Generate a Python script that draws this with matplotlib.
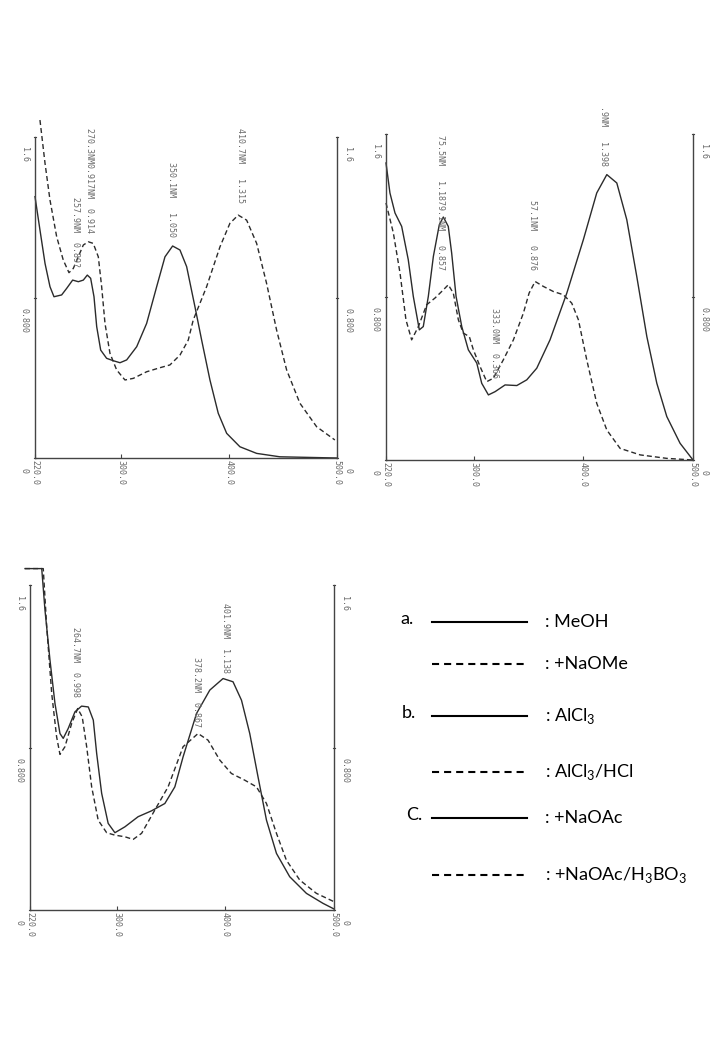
import matplotlib
matplotlib.use('Agg')
import matplotlib.pyplot as plt
from matplotlib.lines import Line2D

plt.rcParams['mathtext.fontset'] = 'custom'
plt.rcParams['mathtext.rm'] = 'Lato'

# panel a: MeOH / +NaOMe
a_wl_meoh = [220, 224.6, 229.3, 233.9, 237.6, 244.7, 249.4, 254.9, 260.2, 264.8, 268.5, 271.6, 274.7,
             277.2, 280.9, 286.4, 292.6, 298.8, 305, 314.3, 323.5, 332.8, 340.5, 347.6, 354.4, 360.6,
             368.3, 374.5, 382.2, 389.9, 397.7, 410, 425.5, 447, 500]
a_ab_meoh = [1.303, 1.137, 0.97, 0.854, 0.804, 0.813, 0.846, 0.887, 0.879, 0.887, 0.912, 0.896, 0.804,
             0.655, 0.538, 0.497, 0.485, 0.475, 0.489, 0.555, 0.671, 0.854, 1.003, 1.057, 1.037, 0.954,
             0.754, 0.588, 0.389, 0.223, 0.123, 0.056, 0.023, 0.006, 0.0]
a_wl_naome = [224.6, 229.3, 233.9, 240.1, 246.2, 251.5, 255.5, 260.1, 264.8, 269.4, 274, 278.7, 281.8,
              284.9, 289.5, 295.7, 303.4, 311.1, 323.5, 335.8, 345.1, 354.4, 362.1, 366.7, 379.1, 391.5,
              400.7, 408.4, 416.2, 425.5, 434.7, 444, 453.3, 465.6, 481.1, 498]
a_ab_naome = [1.685, 1.469, 1.286, 1.103, 0.987, 0.924, 0.945, 1.003, 1.062, 1.078, 1.07, 1.003, 0.854,
              0.671, 0.522, 0.439, 0.389, 0.397, 0.43, 0.45, 0.464, 0.513, 0.588, 0.688, 0.854, 1.053,
              1.17, 1.211, 1.186, 1.07, 0.871, 0.638, 0.439, 0.273, 0.156, 0.09]

# panel b: AlCl3 / AlCl3+HCl
b_wl_alcl = [220, 223.6, 228.2, 234.3, 240.3, 244.9, 250.4, 254, 258.6, 263.2, 268.6, 272.3, 276.8,
             279.9, 283.9, 289.1, 295.1, 302.8, 307.3, 313.4, 319.5, 328.6, 339.3, 348.4, 357.5, 369.6,
             384.9, 400, 412.2, 421.4, 430.5, 439.6, 448.7, 457.9, 467, 476.1, 488.2, 500]
b_ab_alcl = [1.456, 1.309, 1.211, 1.145, 0.982, 0.802, 0.638, 0.654, 0.802, 0.998, 1.153, 1.191, 1.145,
             1.014, 0.802, 0.654, 0.54, 0.475, 0.376, 0.319, 0.335, 0.368, 0.365, 0.393, 0.45, 0.589,
             0.818, 1.08, 1.309, 1.399, 1.358, 1.178, 0.9, 0.605, 0.376, 0.213, 0.082, 0.0]
b_wl_hcl = [220, 226.7, 232.8, 238.2, 243.4, 249.5, 257.1, 264.7, 272.3, 276.8, 281.4, 286, 290.5, 296,
            299.7, 305.8, 311.9, 317.9, 327, 336.2, 345.3, 350.5, 356, 363.5, 372.6, 381.8, 389.4, 395.5,
            403.1, 412.2, 421.4, 433.5, 451.8, 476.1, 500]
b_ab_hcl = [1.26, 1.113, 0.916, 0.687, 0.589, 0.654, 0.761, 0.794, 0.834, 0.859, 0.818, 0.687, 0.622,
            0.605, 0.54, 0.458, 0.384, 0.401, 0.491, 0.589, 0.72, 0.818, 0.875, 0.851, 0.826, 0.81, 0.769,
            0.687, 0.491, 0.278, 0.147, 0.057, 0.025, 0.008, 0.0]

# panel c: +NaOAc / +NaOAc+H3BO3 (trace flattened at the top of the recorder range)
c_wl_naoac = [215.4, 230.8, 233.8, 238.4, 243, 247.6, 250.6, 255.2, 261.4, 267.5, 273.7, 278.3, 281.4,
              286, 292, 298.2, 307.4, 319.6, 332, 344.2, 353.4, 361, 373.4, 385.6, 397.8, 407, 414.8,
              422.4, 430, 437.8, 447, 459.2, 474.6, 489.8, 500]
c_ab_naoac = [1.683, 1.683, 1.478, 1.232, 1.018, 0.87, 0.846, 0.895, 0.977, 1.005, 1.001, 0.936, 0.772,
              0.575, 0.427, 0.381, 0.41, 0.46, 0.489, 0.525, 0.607, 0.755, 0.969, 1.084, 1.141, 1.125,
              1.034, 0.87, 0.657, 0.443, 0.279, 0.164, 0.082, 0.033, 0.005]
c_wl_boric = [215.4, 232.2, 235.4, 240, 244.5, 247.6, 252.2, 258.4, 263.9, 268.1, 272.2, 276.8, 282.8,
              290.6, 298.2, 307.4, 315, 322.8, 335, 347.2, 361, 374.8, 384, 394.8, 405.5, 417.8, 428.6,
              437.8, 447, 456.1, 468.4, 483.8, 500]
c_ab_boric = [1.683, 1.683, 1.396, 1.067, 0.854, 0.767, 0.805, 0.92, 0.993, 0.952, 0.805, 0.607, 0.443,
              0.381, 0.369, 0.361, 0.348, 0.378, 0.493, 0.607, 0.805, 0.87, 0.837, 0.739, 0.673, 0.64,
              0.607, 0.525, 0.378, 0.246, 0.148, 0.082, 0.041]

x_ticks = [220, 300, 400, 500]
x_ticklabels = ['220.0', '300.0', '400.0', '500.0']
y_ticks = [0, 0.8, 1.6]
y_ticklabels = ['0', '0.800', '1.6']

# peak annotations printed by the instrument (wavelength, absorbance where text ends, text)
a_peaks = [(257.9, 0.95, '257.9NM  0.89?'), (270.3, 1.12, '270.3NM0.917NM  0.914'),
           (347.0, 1.10, '350.1NM   1.050'), (410.7, 1.27, '410.7NM   1.315')]
b_peaks = [(270.0, 0.93, '75.5NM   1.1879.1NM   0.857'),
           (319.0, 0.40, '333.0NM  0.366'), (354.0, 0.93, '57.1NM   0.876'),
           (418.5, 1.44, '.9NM   1.398')]
c_peaks = [(262.0, 1.05, '264.7NM  0.998'), (373.0, 0.90, '378.2NM  0.867'),
           (400.0, 1.17, '401.9NM  1.138')]

ink = '#2b2b2b'
grey = '#6a6a6a'
dash = (0, (3.6, 2.2))

fig = plt.figure(figsize=(7.2, 10.4), dpi=100)


def panel(rect, wl1, ab1, wl2, ab2, peaks):
    ax = fig.add_axes(rect)
    ax.set_xlim(220, 500)
    ax.set_ylim(0, 1.75)
    ax.plot(wl1, ab1, color=ink, lw=1.0, clip_on=False)
    ax.plot(wl2, ab2, color=ink, lw=1.0, linestyle=dash, clip_on=False)
    ax.spines['top'].set_visible(False)
    for s in ['left', 'right', 'bottom']:
        ax.spines[s].set_color('#444444')
        ax.spines[s].set_linewidth(1.0)
    ax.spines['left'].set_bounds(0, 1.6)
    ax.spines['right'].set_bounds(0, 1.6)
    ax.set_xticks(x_ticks)
    ax.set_xticklabels([])
    ax.set_yticks([])
    ax.tick_params(axis='x', direction='in', length=3, color='#444444')
    for xv, lab in zip(x_ticks, x_ticklabels):
        ax.text(xv, -0.01, lab, rotation=-90, ha='center', va='top', fontsize=6,
                family='DejaVu Sans Mono', color=grey)
    for yv, lab in zip(y_ticks, y_ticklabels):
        ax.text(-0.035, yv - 0.05, lab, rotation=-90, ha='center', va='top', fontsize=6,
                family='DejaVu Sans Mono', color=grey, transform=ax.get_yaxis_transform())
        ax.text(1.035, yv - 0.05, lab, rotation=-90, ha='center', va='top', fontsize=6,
                family='DejaVu Sans Mono', color=grey, transform=ax.get_yaxis_transform())
        ax.plot([219, 221], [yv, yv], color='#444444', lw=0.8, clip_on=False)
        ax.plot([499, 501], [yv, yv], color='#444444', lw=0.8, clip_on=False)
    for xv, yv, lab in peaks:
        ax.text(xv, yv, lab, rotation=-90, ha='center', va='bottom', fontsize=6,
                family='DejaVu Sans Mono', color=grey)
    return ax


panel([35 / 720, 582 / 1040, 302 / 720, 351 / 1040], a_wl_meoh, a_ab_meoh, a_wl_naome, a_ab_naome, a_peaks)
panel([386 / 720, 580 / 1040, 307 / 720, 357 / 1040], b_wl_alcl, b_ab_alcl, b_wl_hcl, b_ab_hcl, b_peaks)
panel([30 / 720, 130 / 1040, 304 / 720, 355 / 1040], c_wl_naoac, c_ab_naoac, c_wl_boric, c_ab_boric, c_peaks)

# legend block (figure pixel space)
leg_labels = [': MeOH', ': +NaOMe', r': AlCl$_\mathregular{3}$', r': AlCl$_\mathregular{3}$/HCl',
              ': +NaOAc', r': +NaOAc/H$_\mathregular{3}$BO$_\mathregular{3}$']
leg_styles = ['-', (0, (3.4, 2.4)), '-', (0, (3.4, 2.4)), '-', (0, (3.4, 2.4))]
leg_rows = [622, 664, 716, 772, 818, 875]
leg_tags = ['a.', '', 'b.', '', 'C.', '']
tag_x = [400, 0, 402, 0, 406, 0]

lax = fig.add_axes([0, 0, 1, 1])
lax.set_xlim(0, 720)
lax.set_ylim(1040, 0)
lax.axis('off')
for row, lab, st, tag, tx in zip(leg_rows, leg_labels, leg_styles, leg_tags, tag_x):
    lax.add_line(Line2D([432, 527], [row, row], color='black', lw=1.5, linestyle=st))
    lax.text(545, row, lab, ha='left', va='center', fontsize=13, family='Lato', color='black')
    if tag:
        lax.text(tx, row - 3, tag, ha='left', va='center', fontsize=13, family='Lato', color='black')

fig.savefig('out.png', dpi=100)
